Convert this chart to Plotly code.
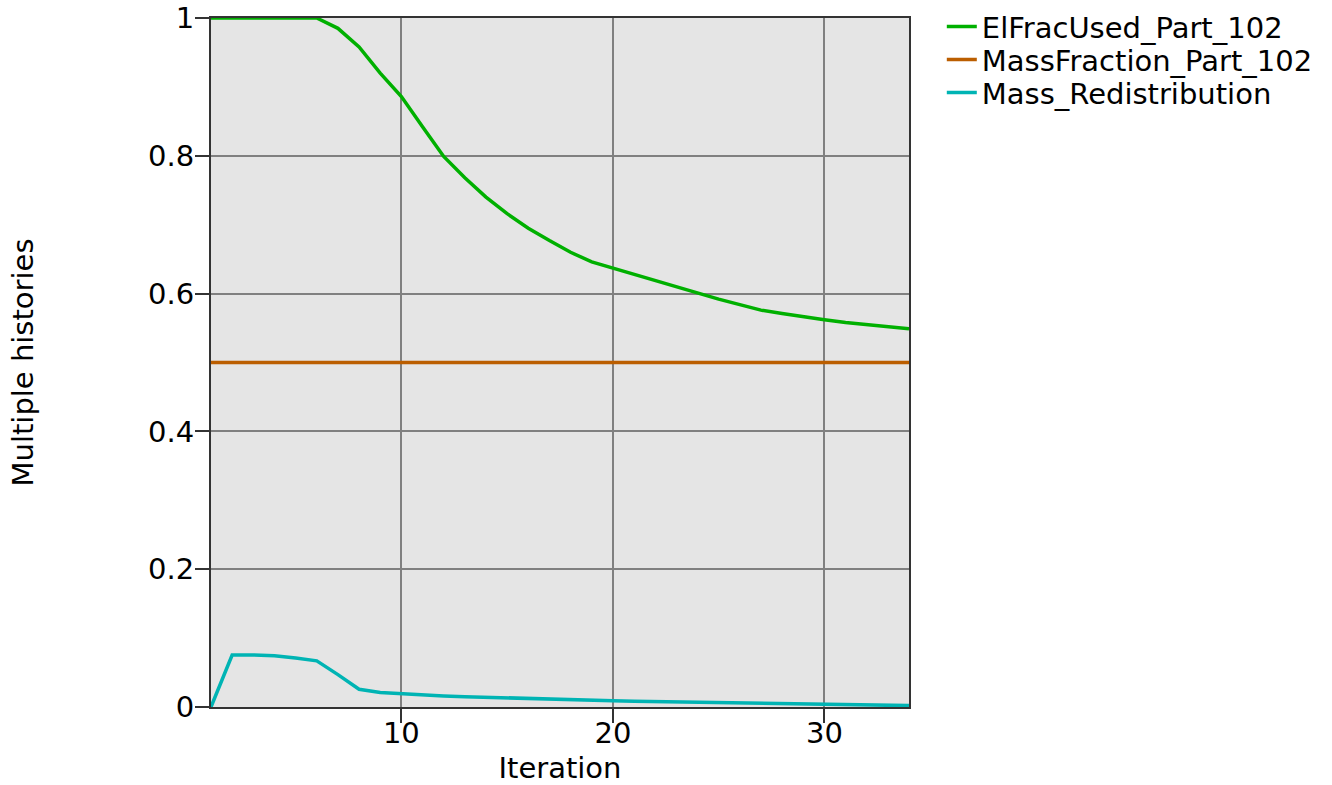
import plotly.graph_objects as go

iterations = list(range(1, 35))
el_frac_used = [1.0, 1.0, 1.0, 1.0, 1.0, 1.0, 0.985, 0.958, 0.920, 0.886,
                0.842, 0.799, 0.768, 0.740, 0.716, 0.695, 0.677, 0.660, 0.646, 0.637,
                0.627, 0.618, 0.609, 0.600, 0.592, 0.584, 0.576, 0.571, 0.566, 0.562,
                0.558, 0.555, 0.552, 0.549]
mass_fraction = [0.5] * 34
mass_redist = [0.0, 0.0755, 0.0755, 0.0745, 0.071, 0.067, 0.047, 0.0257, 0.021, 0.019,
               0.017, 0.016, 0.015, 0.014, 0.013, 0.012, 0.011, 0.010, 0.0095, 0.009,
               0.0085, 0.008, 0.0075, 0.007, 0.0065, 0.006, 0.0055, 0.005, 0.0045, 0.004,
               0.0035, 0.003, 0.0025, 0.002]

names = ["ElFracUsed_Part_102", "MassFraction_Part_102", "Mass_Redistribution"]
colors = ["#00b000", "#bb5e00", "#00b4b4"]
legend_ids = ["legend", "legend2", "legend3"]
legend_ys = [1.0244, 0.9765, 0.9287]

fig = go.Figure()
for name, ys, c, lg in zip(names, [el_frac_used, mass_fraction, mass_redist], colors, legend_ids):
    fig.add_trace(go.Scatter(x=iterations, y=ys, mode="lines", name=name, legend=lg,
                             line=dict(color=c, width=3.5)))

font = dict(family="DejaVu Sans", size=29, color="#000000")
legend_common = dict(x=1.047, xanchor="left", yanchor="top", font=font,
                     bgcolor="rgba(0,0,0,0)", itemwidth=30)
fig.update_layout(
    width=1332, height=785,
    margin=dict(l=211, r=423, t=18, b=78, autoexpand=False),
    paper_bgcolor="white", plot_bgcolor="#e5e5e5",
    font=font,
    showlegend=True,
    legend=dict(y=legend_ys[0], **legend_common),
    legend2=dict(y=legend_ys[1], **legend_common),
    legend3=dict(y=legend_ys[2], **legend_common),
)
fig.update_xaxes(range=[1, 34], tickvals=[10, 20, 30], ticks="outside", ticklen=14,
                 tickcolor="#333", tickwidth=2, ticklabelstandoff=-15,
                 showgrid=True, gridcolor="#808080", gridwidth=2,
                 showline=True, linecolor="#333", linewidth=2, mirror=True,
                 zeroline=False, title=dict(text="Iteration", standoff=19, font=font),
                 tickfont=font)
fig.update_yaxes(range=[0, 1], tickvals=[0, 0.2, 0.4, 0.6, 0.8, 1],
                 ticktext=["0", "0.2", "0.4", "0.6", "0.8", "1"],
                 ticks="outside", ticklen=14, tickcolor="#333", tickwidth=2,
                 ticklabelstandoff=-5,
                 showgrid=True, gridcolor="#808080", gridwidth=2,
                 showline=True, linecolor="#333", linewidth=2, mirror=True,
                 zeroline=False, title=dict(text="Multiple histories", standoff=106, font=font),
                 tickfont=font)
fig.write_html("out.html", post_script="document.body.style.margin='0';",
               config={"displayModeBar": False})
